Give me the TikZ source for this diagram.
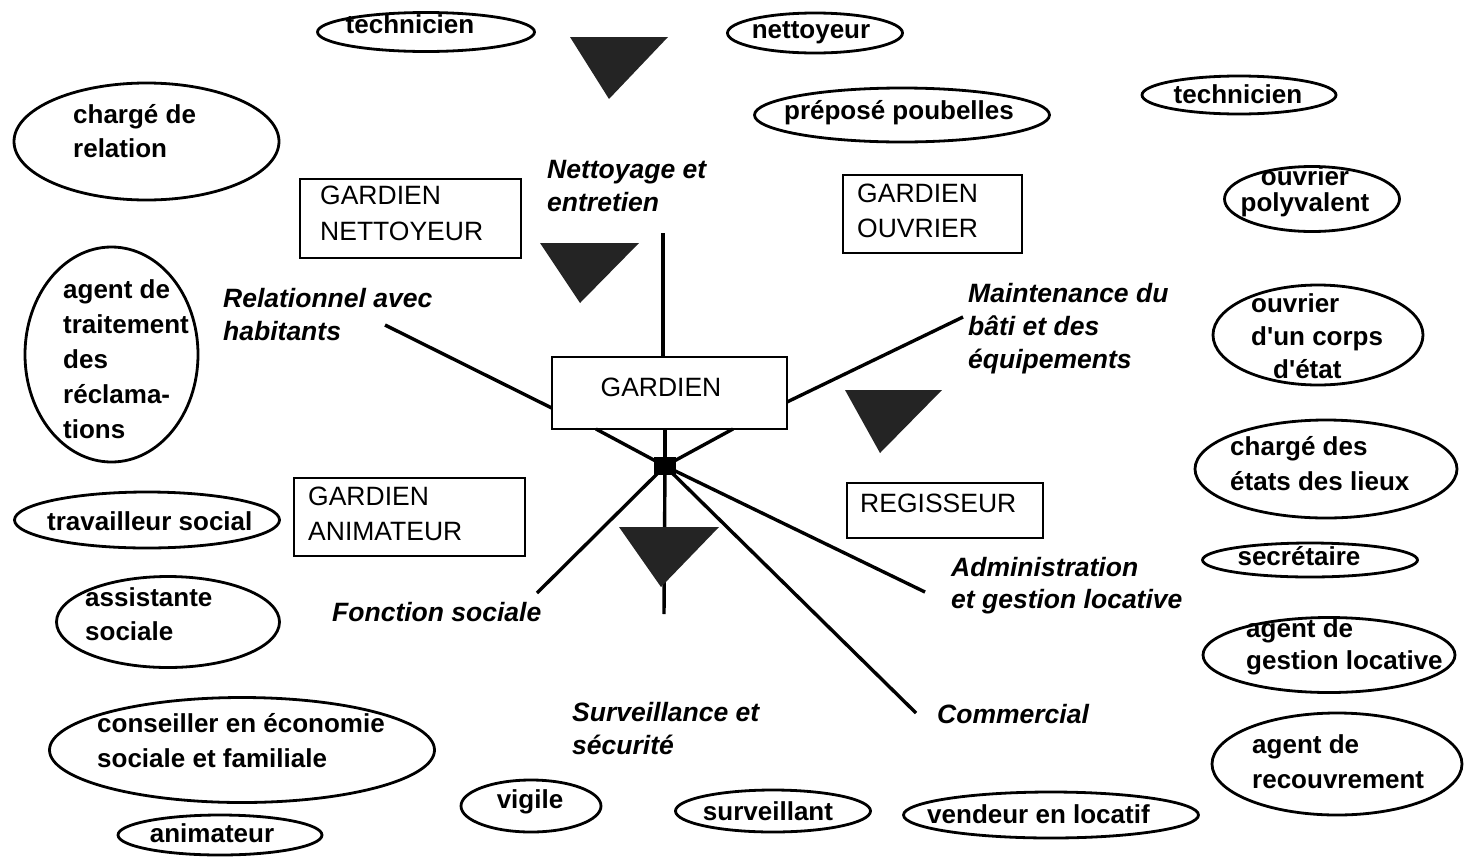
\documentclass[tikz,border=0pt]{standalone}
\usepackage{fontspec}
\setmainfont{Liberation Sans}
\usetikzlibrary{shapes.geometric,calc}
% left- or centre-aligned block of lines whose baseline is the first line's
\newcommand\mline[2][l]{\begin{tabular}[t]{@{}#1@{}}#2\end{tabular}}

\begin{document}
\begin{tikzpicture}[x=1pt,y=-1pt,
  oval/.style={draw, ellipse, line width=2.8pt, inner sep=0pt, outer sep=0pt},
  frame/.style={draw, rectangle, line width=2.8pt, inner sep=0pt, outer sep=0pt},
  etext/.style={font=\fontsize{26}{#1}\selectfont\bfseries, inner sep=0pt, anchor=base west},
  etext/.default=34,
  btext/.style={font=\fontsize{26.5}{#1}\selectfont, inner sep=0pt, anchor=base west},
  btext/.default=36,
  itext/.style={font=\fontsize{26.5}{#1}\selectfont\bfseries\itshape, inner sep=0pt, anchor=base west},
  itext/.default=33,
  conn/.style={line width=3.4pt},
  hub/.style={fill=black, rectangle, inner sep=0pt, minimum width=22pt, minimum height=18pt},
  wedge/.style={fill=black!86}
]
\useasboundingbox (0,0) rectangle (1464,857);

% ---------- job ovals ----------
\node[oval, minimum width=217pt, minimum height=39pt] (oTechA) at (426,32) {};
\node[etext, anchor=base] (tTechA) at (410,33) {technicien};

\node[oval, minimum width=175pt, minimum height=40pt] (oNett) at (815,33) {};
\node[etext, anchor=base] (tNett) at (811,38) {nettoyeur};

\node[oval, minimum width=295pt, minimum height=54pt] (oPoub) at (902,115) {};
\node[etext, anchor=base] (tPoub) at (899,119) {préposé poubelles};

\node[oval, minimum width=194pt, minimum height=38pt] (oTechB) at (1239,95) {};
\node[etext, anchor=base] (tTechB) at (1238,103) {technicien};

\node[oval, minimum width=175pt, minimum height=65pt] (oPoly) at (1312,199) {};
\node[etext=25, anchor=base] (tPoly) at (1305,185) {\mline[c]{ouvrier\\polyvalent}};

\node[oval, minimum width=265pt, minimum height=117pt] (oRel) at (146.5,141.5) {};
\node[etext] (tRel) at (73,123) {\mline{chargé de\\relation}};

\node[oval, minimum width=173pt, minimum height=215pt] (oRecl) at (111.5,354.5) {};
\node[etext=35] (tRecl) at (63,298) {\mline{agent de\\traitement\\des\\réclama-\\tions}};

\node[oval, minimum width=210pt, minimum height=100pt] (oCorps) at (1318,335) {};
\node[etext=33] (tCorps) at (1251,312) {\mline{ouvrier\\d\textquotesingle un corps\\\hspace*{22pt}d\textquotesingle état}};

\node[oval, minimum width=262pt, minimum height=98pt] (oEtats) at (1326,469) {};
\node[etext=35] (tEtats) at (1230,455) {\mline{chargé des\\états des lieux}};

\node[oval, minimum width=265pt, minimum height=56pt] (oTrav) at (147,520) {};
\node[etext] (tTrav) at (47,530) {travailleur social};

\node[oval, minimum width=215pt, minimum height=34pt] (oSecr) at (1310,560) {};
\node[etext, anchor=base] (tSecr) at (1299,565) {secrétaire};

\node[oval, minimum width=223pt, minimum height=91pt] (oAssi) at (168,622) {};
\node[etext] (tAssi) at (85,606) {\mline{assistante\\sociale}};

\node[oval, minimum width=252pt, minimum height=75pt] (oGest) at (1329,655) {};
\node[etext=32] (tGest) at (1246,637) {\mline{agent de\\gestion locative}};

\node[oval, minimum width=250pt, minimum height=102pt] (oRecv) at (1337,764) {};
\node[etext=35] (tRecv) at (1252,753) {\mline{agent de\\recouvrement}};

\node[oval, minimum width=385pt, minimum height=105pt] (oCons) at (242,750) {};
\node[etext=35] (tCons) at (97,732) {\mline{conseiller en économie\\sociale et familiale}};

\node[oval, minimum width=204pt, minimum height=40pt] (oAnim) at (220,835) {};
\node[etext, anchor=base] (tAnim) at (212,842) {animateur};

\node[oval, minimum width=140pt, minimum height=52pt] (oVig) at (531,806) {};
\node[etext, anchor=base] (tVig) at (530,808) {vigile};

\node[oval, minimum width=195pt, minimum height=42pt] (oSurv) at (773,811) {};
\node[etext, anchor=base] (tSurv) at (768,820) {surveillant};

\node[oval, minimum width=295pt, minimum height=46pt] (oVend) at (1051,815) {};
\node[etext] (tVend) at (927,823) {vendeur en locatif};

% ---------- role boxes ----------
\node[frame, minimum width=221pt, minimum height=79pt] (bNet) at (410.5,218.5) {};
\node[btext] (tbNet) at (320,204) {\mline{GARDIEN\\NETTOYEUR}};

\node[frame, minimum width=179pt, minimum height=78pt] (bOuv) at (932.5,214) {};
\node[btext=35] (tbOuv) at (857,202) {\mline{GARDIEN\\OUVRIER}};

\node[frame, minimum width=231pt, minimum height=78pt] (bAni) at (409.5,517) {};
\node[btext=35] (tbAni) at (308,505) {\mline{GARDIEN\\ANIMATEUR}};

\node[frame, minimum width=196pt, minimum height=55pt] (bReg) at (945,510.5) {};
\node[btext] (tbReg) at (860,512) {REGISSEUR};

\node[frame, minimum width=235pt, minimum height=72pt] (g) at (669.5,393) {};
\node[btext, anchor=base] (tg) at (661,396) {GARDIEN};

% ---------- function labels ----------
\node[itext] (lNet) at (547,178) {\mline{Nettoyage et\\entretien}};
\node[itext] (lRel) at (223,307) {\mline{Relationnel avec\\habitants}};
\node[itext] (lMai) at (968,302) {\mline{Maintenance du\\bâti et des\\équipements}};
\node[itext] (lSoc) at (332,621) {Fonction sociale};
\node[itext=32] (lAdm) at (951,576) {\mline{Administration\\et gestion locative}};
\node[itext] (lSur) at (572,721) {\mline{Surveillance et\\sécurité}};
\node[itext] (lCom) at (937,723) {Commercial};

% ---------- spokes ----------
\coordinate (pNet) at (663,233);
\coordinate (pRel) at (385,325);
\coordinate (pMai) at (963,317);
\coordinate (pSoc) at (537,593);
\coordinate (pSur) at (664,614);
\coordinate (pAdm) at (925,592);
\coordinate (pCom) at (916,713);
\coordinate (j0) at (665,466);

\draw[conn] (pNet) -- (pNet |- g.north);
\draw[conn] (pRel) -- ($(g.north west)!0.71!(g.south west)$);
\draw[conn] ($(g.north east)!0.625!(g.south east)$) -- (pMai);
\draw[conn] ($(g.south west)!0.187!(g.south east)$) -- (j0);
\draw[conn] ($(g.south west)!0.77!(g.south east)$) -- (j0);
\draw[conn] (j0 |- g.south) -- (j0);
\draw[conn] (j0) -- (pSoc);
\draw[conn] (j0) -- (pSur);
\draw[conn] (j0) -- (pAdm);
\draw[conn] (j0) -- (pCom);
\node[hub] (j) at (j0) {};

% ---------- dark wedges ----------
\fill[wedge] (570,37) -- (668,37) -- (609,99) -- cycle;
\fill[wedge] (540,243) -- (639,243) -- (580,303) -- cycle;
\fill[wedge] (845,390) -- (942,390) -- (880,453) -- cycle;
\fill[wedge] (619,527) -- (719,527) -- (661,587) -- cycle;
\end{tikzpicture}
\end{document}
